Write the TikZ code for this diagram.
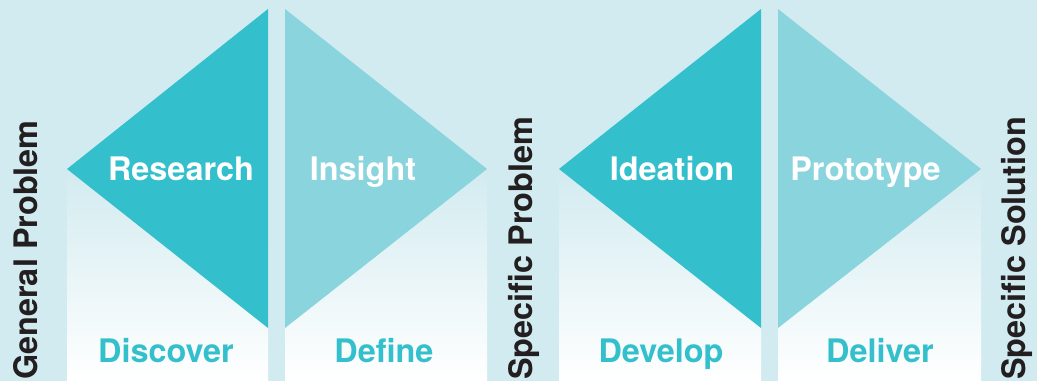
\documentclass[tikz,border=0pt]{standalone}
\usepackage{fontspec}
\setmainfont{TeX Gyre Heros}
\definecolor{bgc}{HTML}{D2EBF0}
\definecolor{darkt}{HTML}{33C0CC}
\definecolor{lightt}{HTML}{89D4DD}
\definecolor{ink}{HTML}{231F20}
\begin{document}
\begin{tikzpicture}[x=1pt,y=-1pt,
  lbl/.style={inner sep=0pt,font=\bfseries\fontsize{32.4}{32.4}\selectfont},
  inlbl/.style={lbl,text=white,anchor=base},
  phase/.style={lbl,text=darkt,anchor=base},
  side/.style={lbl,text=ink,rotate=90,anchor=base west},
  fade/.style={top color=bgc,bottom color=white}]
\useasboundingbox (0,0) rectangle (1037,381);
\fill[bgc] (0,0) rectangle (1037,381);
% gradient bands
\shade[fade] (67,169) rectangle (268,381);
\shade[fade] (285,169) rectangle (487,381);
\shade[fade] (559,169) rectangle (761,381);
\shade[fade] (778,169) rectangle (981,381);
% triangles
\fill[darkt] (67,169) -- (268,9) -- (268,328) -- cycle;
\fill[lightt] (285,9) -- (487,169) -- (285,328) -- cycle;
\fill[darkt] (559,169) -- (761,9) -- (761,328) -- cycle;
\fill[lightt] (778,9) -- (981,169) -- (778,328) -- cycle;
% labels inside triangles
\node[inlbl] (research) at (181,180) {Research};
\node[inlbl] (insight) at (363,180) {Insight};
\node[inlbl] (ideation) at (672,180) {Ideation};
\node[inlbl] (prototype) at (865.5,180) {Prototype};
% phase labels
\node[phase] (discover) at (166,362) {Discover};
\node[phase] (define) at (384,362) {Define};
\node[phase] (develop) at (661,362) {Develop};
\node[phase] (deliver) at (880,362) {Deliver};
% side labels
\node[side] (general) at (37,380) {General Problem};
\node[side] (specprob) at (532,380) {Specific Problem};
\node[side] (specsol) at (1025,380) {Specific Solution};
\end{tikzpicture}
\end{document}
